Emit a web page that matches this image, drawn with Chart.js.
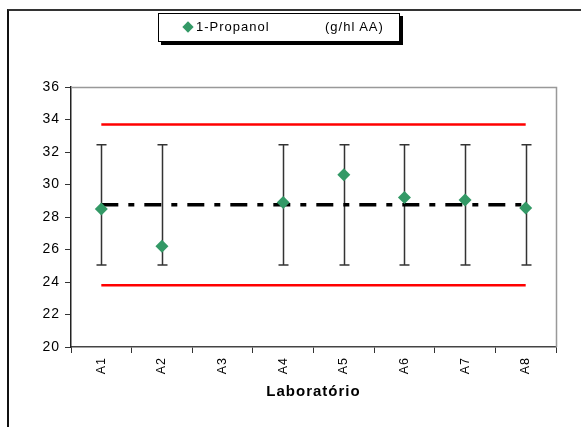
<!DOCTYPE html>
<html>
<head>
<meta charset="utf-8">
<script src="https://cdn.jsdelivr.net/npm/chart.js@4"></script>
<style>
  html, body { margin: 0; padding: 0; background: #fff; }
  #wrap { position: relative; width: 581px; height: 427px; overflow: hidden; }
  #frame { position: absolute; left: 7px; top: 9px; width: 700px; height: 500px;
           border-top: 2px solid #333; border-left: 2px solid #111; }
  #legend { position: absolute; left: 158px; top: 13px; width: 240px; height: 27px;
            border: 1px solid #000; background: #fff; box-shadow: 3px 3px 0 #000;
            font: 13px "Liberation Sans", Arial, sans-serif; letter-spacing: 1px; color: #000; }
  #legend .mk { position: absolute; left: 25px; top: 9px; width: 8px; height: 8px;
                background: #339966; transform: rotate(45deg); }
  #legend .name { position: absolute; left: 37px; top: 5px; }
  #legend .unit { position: absolute; left: 166px; top: 5px; }
  canvas { position: absolute; left: 0; top: 0; }
</style>
</head>
<body>
<div id="wrap">
  <div id="frame"></div>
  <canvas id="chart" width="581" height="427"></canvas>
  <div id="legend"><span class="mk"></span><span class="name" id="lgName"></span><span class="unit" id="lgUnit"></span></div>
</div>
<script>
// Resultados por laboratório
const labs = ['A1', 'A2', 'A3', 'A4', 'A5', 'A6', 'A7', 'A8'];
const results = [28.5, 26.2, null, 28.9, 30.6, 29.2, 29.05, 28.55];
const errLow = [25.05, 25.05, null, 25.05, 25.05, 25.05, 25.05, 25.05];
const errHigh = [32.45, 32.45, null, 32.45, 32.45, 32.45, 32.45, 32.45];
const meanValue = 28.75;
const upperLimit = 33.7;
const lowerLimit = 23.8;
const yTicks = [20, 22, 24, 26, 28, 30, 32, 34, 36];
const seriesName = '1-Propanol';
const unitText = '(g/hl AA)';
const axisTitle = 'Laboratório';

document.getElementById('lgName').textContent = seriesName;
document.getElementById('lgUnit').textContent = unitText;

const FONT = '"Liberation Sans", Arial, sans-serif';

// texto um pouco mais espaçado
const spacing = {
  id: 'spacing',
  beforeDraw(chart) { chart.ctx.letterSpacing = '1px'; }
};

// barras de erro + moldura cinza da área do gráfico
const errorBars = {
  id: 'errorBars',
  beforeDatasetsDraw(chart) {
    const { ctx, chartArea: a, scales: { x, y } } = chart;
    ctx.save();
    ctx.strokeStyle = '#999';
    ctx.lineWidth = 1.5;
    ctx.beginPath();
    ctx.moveTo(a.left, a.top + 0.5);
    ctx.lineTo(a.right + 0.5, a.top + 0.5);
    ctx.lineTo(a.right + 0.5, a.bottom);
    ctx.stroke();

    ctx.strokeStyle = '#333';
    ctx.lineWidth = 1.5;
    const cap = 5;
    labs.forEach((lab, i) => {
      if (errLow[i] == null) return;
      const px = Math.round(x.getPixelForValue(i)) + 0.5;
      const y1 = y.getPixelForValue(errLow[i]);
      const y2 = y.getPixelForValue(errHigh[i]);
      ctx.beginPath();
      ctx.moveTo(px, y1); ctx.lineTo(px, y2);
      ctx.moveTo(px - cap, y1); ctx.lineTo(px + cap, y1);
      ctx.moveTo(px - cap, y2); ctx.lineTo(px + cap, y2);
      ctx.stroke();
    });
    ctx.restore();
  }
};

new Chart(document.getElementById('chart'), {
  type: 'line',
  data: {
    labels: labs,
    datasets: [
      {
        label: seriesName,
        data: results,
        showLine: false,
        pointStyle: 'rectRot',
        pointRadius: 6.5,
        pointBackgroundColor: '#339966',
        pointBorderColor: '#339966',
        pointBorderWidth: 0,
        order: 0
      },
      {
        label: 'média',
        data: labs.map(() => meanValue),
        borderColor: '#000',
        borderWidth: 3.5,
        borderDash: [17, 10, 6, 10],
        pointRadius: 0,
        order: 1
      },
      {
        label: 'limite superior',
        data: labs.map(() => upperLimit),
        borderColor: '#ff0000',
        borderWidth: 2.5,
        pointRadius: 0,
        order: 2
      },
      {
        label: 'limite inferior',
        data: labs.map(() => lowerLimit),
        borderColor: '#ff0000',
        borderWidth: 2.5,
        pointRadius: 0,
        order: 2
      }
    ]
  },
  options: {
    responsive: false,
    animation: false,
    layout: { padding: { top: 87, right: 25, left: 0, bottom: 0 } },
    plugins: {
      legend: { display: false },
      tooltip: { enabled: false }
    },
    scales: {
      x: {
        offset: true,
        grid: { offset: true, drawOnChartArea: false, color: '#333', tickLength: 6 },
        border: { color: '#444', width: 1.5 },
        ticks: {
          color: '#000', font: { family: FONT, size: 12.5 },
          minRotation: 90, maxRotation: 90, padding: 4, autoSkip: false
        },
        title: {
          display: true, text: axisTitle, color: '#000',
          font: { family: FONT, size: 15, weight: 'bold' },
          padding: { top: 0, bottom: 26 }
        },
        afterFit(scale) { scale.height = 80; }
      },
      y: {
        min: 20, max: 36,
        afterBuildTicks(scale) { scale.ticks = yTicks.map(v => ({ value: v })); },
        grid: { drawOnChartArea: false, color: '#333', tickLength: 6 },
        border: { color: '#222', width: 1.5 },
        ticks: { color: '#000', font: { family: FONT, size: 14 }, padding: 5 },
        afterFit(scale) { scale.width = 71; }
      }
    }
  },
  plugins: [spacing, errorBars]
});
</script>
</body>
</html>
